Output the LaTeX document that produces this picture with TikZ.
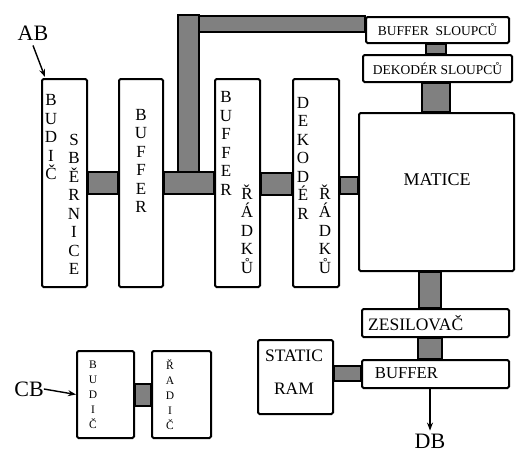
\documentclass[tikz,border=0pt]{standalone}
\usepackage{fontspec}
\setmainfont{Liberation Serif}
\usetikzlibrary{calc,arrows.meta}
\definecolor{busgray}{RGB}{128,128,128}
\tikzset{
  blk/.style={draw, line width=2pt, rounded corners=1.5pt, fill=white, inner sep=0pt},
  bus/.style={draw, line width=1.6pt, fill=busgray},
  vtxt/.style={align=center, font=\fontsize{17}{18.5}\selectfont, inner sep=0pt},
  stxt/.style={align=center, font=\fontsize{11.5}{15}\selectfont, inner sep=0pt},
  lbl/.style={font=\fontsize{22}{24}\selectfont, inner sep=0pt},
  arr/.style={-{Stealth[length=8pt,width=6pt]}, line width=1.4pt},
}
\begin{document}
\begin{tikzpicture}[x=1pt,y=-1pt]
\useasboundingbox (0,0) rectangle (516,455);
% boxes
\node[blk, minimum width=45pt, minimum height=208pt] (bs) at (64.5,183) {};
\node[blk, minimum width=44pt, minimum height=208pt] (buf) at (141,183) {};
\node[blk, minimum width=45pt, minimum height=208pt] (br) at (237.5,183) {};
\node[blk, minimum width=46pt, minimum height=208pt] (dr) at (316,183) {};
\node[blk, minimum width=155pt, minimum height=158pt] (mat) at (436.5,192) {};
\node[blk, minimum width=143pt, minimum height=26pt, font=\fontsize{13.5}{15}\selectfont] (bsl) at (437.5,30) {BUFFER~~SLOUPCŮ};
\node[blk, minimum width=149pt, minimum height=27pt, font=\fontsize{13.5}{15}\selectfont] (dsl) at (437.5,68.5) {DEKODÉR SLOUPCŮ};
\node[blk, minimum width=147pt, minimum height=28pt] (zes) at (435.5,323) {};
\node[blk, minimum width=147pt, minimum height=28pt] (bufb) at (435.5,374) {};
\node[blk, minimum width=75pt, minimum height=74pt] (ram) at (295.5,377) {};
\node[blk, minimum width=57pt, minimum height=87pt] (bud) at (105.5,394.5) {};
\node[blk, minimum width=59pt, minimum height=87pt] (rad) at (181.5,394.5) {};
% buses
\coordinate (c1) at (178,15);
\draw[bus] (c1) rectangle ($(c1)+(21,157)$);
\draw[bus] ($(c1)+(21,1)$) rectangle ($(bsl.west)+(0,2)$);
\draw[bus] ($(bs.east)+(0,-11)$) rectangle ($(buf.west)+(0,11)$);
\draw[bus] ($(buf.east)+(0,-11)$) rectangle ($(br.west)+(0,11)$);
\draw[bus] ($(br.east)+(0,-10)$) rectangle ($(dr.west)+(0,12)$);
\draw[bus] ($(dr.east)+(0,-6)$) rectangle ($(dr.east -| mat.west)+(0,11)$);
\draw[bus] ($(bsl.south)+(-11.5,0)$) rectangle ($(dsl.north)+(8.5,0)$);
\draw[bus] ($(dsl.south)+(-15.5,0)$) rectangle ($(mat.north)+(13.5,0)$);
\draw[bus] ($(mat.south)+(-17.5,0)$) rectangle ($(zes.north)+(5.5,0)$);
\draw[bus] ($(zes.south)+(-17.5,0)$) rectangle ($(bufb.north)+(6.5,0)$);
\draw[bus] ($(ram.east)+(0,-11)$) rectangle ($(ram.east -| bufb.west)+(0,4)$);
\draw[bus] ($(bud.east)+(0,-10.5)$) rectangle ($(rad.west)+(0,11.5)$);
% texts
\node[vtxt] (t1a) at (51,137.5) {B\\U\\D\\I\\Č};
\node[vtxt] (t1b) at (74,204.5) {S\\B\\Ě\\R\\N\\I\\C\\E};
\node[vtxt] (t2) at (141,161) {B\\U\\F\\F\\E\\R};
\node[vtxt] (t3a) at (226,143.5) {B\\U\\F\\F\\E\\R};
\node[vtxt] (t3b) at (247,229) {Ř\\Á\\D\\K\\Ů};
\node[vtxt] (t4a) at (303,158) {D\\E\\K\\O\\D\\É\\R};
\node[vtxt] (t4b) at (325,229) {Ř\\Á\\D\\K\\Ů};
\node[font=\fontsize{18}{20}\selectfont, inner sep=0pt] (tm) at (437,180) {MATICE};
\node[font=\fontsize{17.5}{20}\selectfont, inner sep=0pt, anchor=west] (tz) at (368,323) {ZESILOVAČ};
\node[font=\fontsize{16.7}{20}\selectfont, inner sep=0pt] (tb) at (406.5,373) {BUFFER};
\node[align=center, font=\fontsize{17.5}{33}\selectfont, inner sep=0pt] (tr) at (294,372) {STATIC\\RAM};
\node[stxt] (t5) at (93,395) {B\\U\\D\\I\\Č};
\node[stxt] (t6) at (170,395) {Ř\\A\\D\\I\\Č};
% labels
\node[lbl] (ab) at (33,33) {AB};
\node[lbl] (cb) at (29,389) {CB};
\node[lbl] (db) at (430,441) {DB};
\draw[arr] ($(ab.south)+(0,5)$) -- ($(bs.north west)+(4,-1)$);
\draw[arr] (cb.east) -- (bud.west);
\draw[arr] ($(bufb.south)+(-5.5,0)$) -- ($(db.north)+(0,-3)$);
\end{tikzpicture}
\end{document}
